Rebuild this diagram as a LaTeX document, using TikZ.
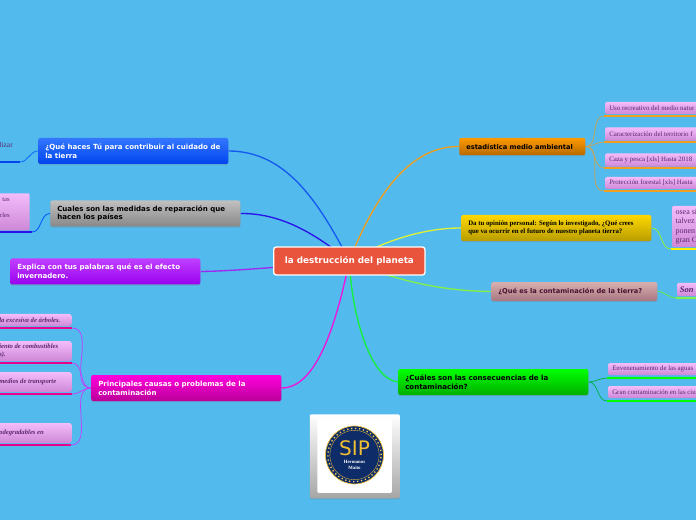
\documentclass[tikz,border=0pt]{standalone}
\usepackage{fontspec}
\usepackage{xcolor}
\usepackage{tikz}
\usetikzlibrary{shadows,backgrounds}
\newfontfamily\branchfont{DejaVu Sans}[BoldFont={DejaVu Sans Bold}]
\setmainfont{Liberation Serif}
\definecolor{skyBg}{RGB}{82,186,236}
\definecolor{rootFill}{RGB}{232,84,60}
\definecolor{kidTop}{RGB}{243,188,250}
\definecolor{kidBottom}{RGB}{206,136,214}
\definecolor{kidText}{RGB}{92,40,112}
\definecolor{linkOrange}{RGB}{240,160,30}
\definecolor{linkYellow}{RGB}{220,240,60}
\definecolor{linkLime}{RGB}{130,240,70}
\definecolor{linkGreen}{RGB}{20,240,60}
\definecolor{linkMagenta}{RGB}{240,20,220}
\definecolor{linkPurple}{RGB}{160,40,240}
\definecolor{linkBlue}{RGB}{20,90,240}
\definecolor{linkIndigo}{RGB}{40,20,235}
\definecolor{linkTan}{RGB}{200,165,90}
\definecolor{sealBlue}{RGB}{14,44,104}
\definecolor{sealGold}{RGB}{240,190,50}
\definecolor{blueTop}{RGB}{51,119,255}
\definecolor{blueBottom}{RGB}{0,68,238}
\definecolor{greyTop}{RGB}{192,192,192}
\definecolor{greyBottom}{RGB}{136,136,136}
\definecolor{purpleTop}{RGB}{192,64,255}
\definecolor{purpleBottom}{RGB}{153,0,238}
\definecolor{magentaTop}{RGB}{255,0,221}
\definecolor{magentaBottom}{RGB}{187,0,153}
\definecolor{orangeTop}{RGB}{255,154,0}
\definecolor{orangeBottom}{RGB}{184,106,0}
\definecolor{yellowTop}{RGB}{255,216,0}
\definecolor{yellowBottom}{RGB}{184,156,0}
\definecolor{roseTop}{RGB}{216,176,176}
\definecolor{roseBottom}{RGB}{168,120,128}
\definecolor{roseText}{RGB}{74,16,48}
\definecolor{greenTop}{RGB}{0,255,0}
\definecolor{greenBottom}{RGB}{0,176,0}
\tikzset{
  qbox/.style={anchor=west, rounded corners=1.5pt, inner xsep=5.25pt, inner ysep=0pt,
    minimum height=19.5pt, minimum width=142.5pt, text width=132pt, align=flush left,
    font=\branchfont\bfseries\fontsize{5.3}{6.6}\selectfont,
    drop shadow={shadow xshift=0pt, shadow yshift=-0.8pt, opacity=0.35}},
  kidbox/.style={anchor=west, rounded corners=1pt, inner xsep=3pt, inner ysep=0pt,
    top color=kidTop, bottom color=kidBottom, text=kidText, align=flush left,
    font=\fontsize{5.15}{6}\selectfont},
  rightkid/.style={kidbox, text width=80pt},
  leftkid/.style={kidbox, text width=51pt,
    font=\bfseries\itshape\fontsize{5}{5.6}\selectfont},
  bar/.style={line width=2pt},
  link/.style={line width=1pt},
  sublink/.style={line width=0.55pt},
}
\begin{document}
\begin{tikzpicture}[x=0.75pt, y=-0.75pt]
  \path[use as bounding box] (0,0) rectangle (696,520);
  \clip (0,0) rectangle (696,520);

  % centre
  \node[anchor=west, draw=white, line width=1pt, fill=rootFill, rounded corners=2pt,
    minimum width=113.5pt, minimum height=21pt, text=white, inner sep=0pt,
    font=\branchfont\bfseries\fontsize{6.6}{8}\selectfont] (root) at (273,261) {la destrucción del planeta};

  % main branches
  \node[qbox, top color=blueTop, bottom color=blueBottom, text=white] (hacer) at (38,151)
    {¿Qué haces Tú para contribuir al cuidado de la tierra};
  \node[qbox, top color=greyTop, bottom color=greyBottom, text=black] (medidas) at (50,213.5)
    {Cuales son las medidas de reparación que hacen los países};
  \node[qbox, top color=purpleTop, bottom color=purpleBottom, text=white] (efecto) at (10,271.5)
    {Explica con tus palabras qué es el efecto invernadero.};
  \node[qbox, top color=magentaTop, bottom color=magentaBottom, text=white] (causas) at (91,388)
    {Principales causas o problemas de la contaminación};
  \node[qbox, top color=orangeTop, bottom color=orangeBottom, text=black, minimum width=94pt, minimum height=13pt, text width=84pt,
    font=\branchfont\bfseries\fontsize{5}{6.6}\selectfont] (estadistica) at (459,146.5)
    {estadística medio ambiental};
  \node[qbox, top color=yellowTop, bottom color=yellowBottom, text=black,
    font=\bfseries\fontsize{5.1}{6.1}\selectfont] (opinion) at (461,228)
    {Da tu opinión personal: Según lo investigado, ¿Qué crees\\que va ocurrir en el futuro de nuestro planeta tierra?};
  \node[qbox, top color=roseTop, bottom color=roseBottom, text=roseText, minimum width=124pt, minimum height=14pt, text width=114pt,
    font=\branchfont\bfseries\fontsize{5}{6.6}\selectfont] (quees) at (491,291.5)
    {¿Qué es la contaminación de la tierra?};
  \node[qbox, top color=greenTop, bottom color=greenBottom, text=black] (consecuencias) at (398,382)
    {¿Cuáles son las consecuencias de la contaminación?};

  % right side
  \node[rightkid, minimum height=9pt] (uso) at (605,108) {Uso recreativo del medio natur};
  \node[rightkid, minimum height=10pt] (territorio) at (605,134) {Caracterización del territorio f};
  \node[rightkid, minimum height=10pt] (caza) at (605,160) {Caza y pesca [xls] Hasta 2018};
  \node[rightkid, minimum height=9pt] (forestal) at (605,183) {Protección forestal [xls] Hasta};
  \node[kidbox, text width=24pt, inner xsep=2.5pt, minimum height=31pt, font=\fontsize{6}{7.1}\selectfont] (osea) at (672,226.5) {osea si\\talvez\\ponen\\gran C};
  \node[kidbox, text width=24pt, inner xsep=2pt, minimum height=10pt, font=\bfseries\itshape\fontsize{6.4}{8}\selectfont] (son) at (677,289.5) {Son};
  \node[rightkid, minimum height=9pt] (aguas) at (608,369) {Envenenamiento de las aguas};
  \node[rightkid, minimum height=9pt] (ciudad) at (608,392) {Gran contaminación en las ciu};

  % left side
  \node[anchor=east, text=kidText, inner sep=0pt, font=\fontsize{5.6}{6.6}\selectfont] (lizar) at (13,145) {lizar};
  \node[kidbox, anchor=north east, minimum width=25pt, minimum height=27.75pt, inner sep=0pt] (tas) at (30,193) {};
  \node[anchor=north east, text=kidText, inner sep=0pt, align=right, font=\fontsize{5}{12}\selectfont] (tasrles) at (10,197) {tas\\rles};
  \node[leftkid, minimum height=9pt] (tala) at (-5,320) {la excesiva de árboles.};
  \node[leftkid, minimum height=15pt] (combustibles) at (-5,351) {iento de combustibles\\s).};
  \node[leftkid, minimum height=15pt] (medios) at (-5,382) {medios de transporte\\ };
  \node[leftkid, minimum height=15pt] (degradables) at (-5,433) {odegradables en\\ };

  % underlines
  \coordinate (usoend) at (604,116);
  \coordinate (territorioend) at (604,142);
  \coordinate (cazaend) at (604,168);
  \coordinate (forestalend) at (604,191);
  \coordinate (oseaend) at (671,249);
  \coordinate (sonend) at (676,298);
  \coordinate (aguasend) at (607,378);
  \coordinate (ciudadend) at (607,401);
  \coordinate (lizarend) at (20,162);
  \coordinate (tasend) at (32,232);
  \coordinate (talaend) at (72,328);
  \coordinate (combustiblesend) at (72,363);
  \coordinate (mediosend) at (72,394);
  \coordinate (degradablesend) at (71,445);
  \foreach \name in {uso,territorio,caza,forestal}
    \draw[bar, linkOrange] (\name end) -- ++(92,0);
  \draw[bar, yellow] (oseaend) -- ++(25,0);
  \draw[bar, linkLime] (sonend) -- ++(20,0);
  \draw[bar, green] (aguasend) -- ++(89,0);
  \draw[bar, green] (ciudadend) -- ++(89,0);
  \draw[bar, blueBottom] (lizarend) -- ++(-21,0);
  \draw[bar, linkIndigo] (tasend) -- ++(-33,0);
  \foreach \name in {tala,combustibles,medios,degradables}
    \draw[bar, magenta] (\name end) -- ++(-73,0);

  % school logo
  \node[anchor=north west, minimum width=67.5pt, minimum height=63pt, inner sep=0pt, rounded corners=1pt,
    top color=white, bottom color=black!35, drop shadow={shadow xshift=0pt, shadow yshift=-0.8pt, opacity=0.35}] (card) at (309.5,414) {};
  \node[anchor=north west, minimum width=56pt, minimum height=56pt, inner sep=0pt, fill=white, rounded corners=1pt] (face) at (317,418) {};
  \node[circle, minimum size=43.5pt, inner sep=0pt, fill=sealBlue, draw=sealGold, line width=0.5pt] (seal) at (354.5,455) {};
  \node[circle, minimum size=37pt, inner sep=0pt, draw=sealGold, line width=0.25pt] (ring) at (354.5,455) {};
  \node[circle, minimum size=40pt, inner sep=0pt, draw=sealGold!80!white, dotted, line width=1pt] (lettering) at (354.5,455) {};
  \node[text=sealGold, inner sep=0pt, font=\branchfont\fontsize{15}{15}\selectfont] (sip) at (354.5,448.5) {SIP};
  \node[text=white, inner sep=0pt, align=center, font=\bfseries\fontsize{3.6}{5}\selectfont] (hermanos) at (354.5,465) {Hermanos\\Maito};

  \begin{scope}[on background layer]
    \fill[skyBg] (0,0) rectangle (696,520);
    % from the centre
    \draw[link, linkBlue] (root.center) .. controls (318,200) and (285,151) .. (hacer.east);
    \draw[link, linkIndigo] (root.center) .. controls (320,238) and (285,213) .. (medidas.east);
    \draw[link, linkPurple] (root.center) .. controls (300,265) and (240,271) .. (efecto.east);
    \draw[link, linkMagenta] (root.center) .. controls (335,330) and (315,388) .. (causas.east);
    \draw[link, linkOrange] (root.center) .. controls (375,195) and (410,146) .. (estadistica.west);
    \draw[link, linkYellow] (root.center) .. controls (385,240) and (425,228) .. (opinion.west);
    \draw[link, linkLime] (root.center) .. controls (395,280) and (440,291) .. (quees.west);
    \draw[link, linkGreen] (root.center) .. controls (352,320) and (372,380) .. (consecuencias.west);
    % second level
    \foreach \name in {uso,territorio,caza,forestal}
      \draw[sublink, linkTan] (estadistica.east) to[out=0, in=180] (\name end);
    \draw[sublink, linkYellow!70!green] (opinion.east) to[out=0, in=180] (oseaend);
    \draw[sublink, linkLime!70!green] (quees.east) to[out=0, in=180] (sonend);
    \draw[sublink, green!70!blue] (consecuencias.east) to[out=0, in=180] (aguasend);
    \draw[sublink, green!70!blue] (consecuencias.east) to[out=0, in=180] (ciudadend);
    \draw[sublink, blue!60!cyan] (hacer.west) to[out=180, in=0] (lizarend);
    \draw[sublink, blue!70!cyan] (medidas.west) to[out=180, in=0] (tasend);
    \foreach \name in {tala,combustibles,medios,degradables}
      \draw[sublink, purpleTop] (causas.west) to[out=180, in=0] (\name end);
  \end{scope}
\end{tikzpicture}
\end{document}
